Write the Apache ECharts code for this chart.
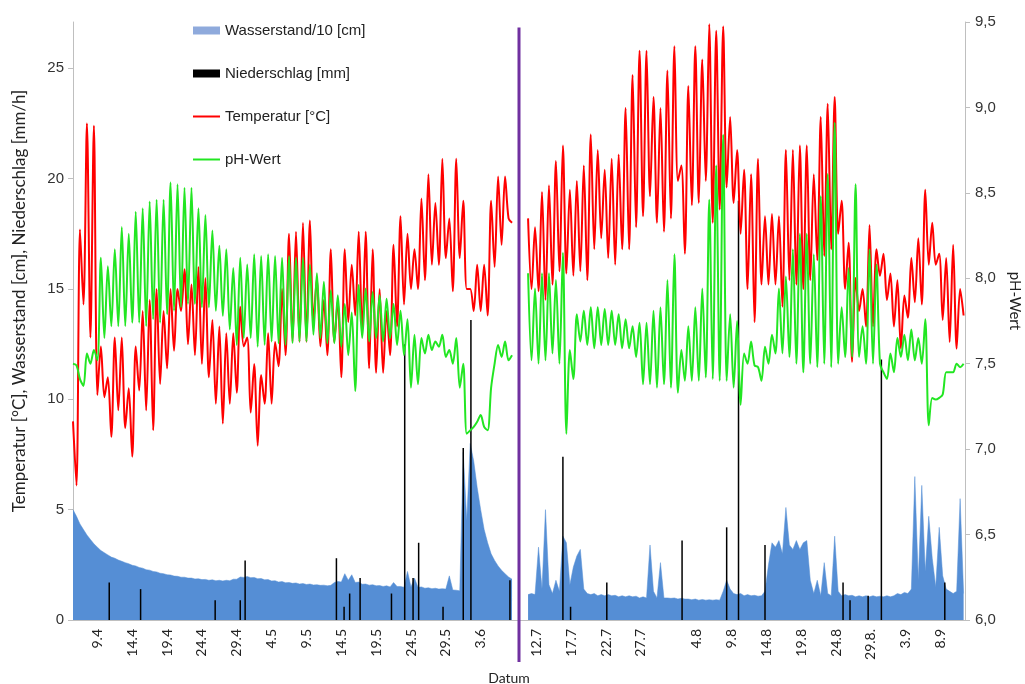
<!DOCTYPE html>
<html><head><meta charset="utf-8">
<script src="https://cdn.jsdelivr.net/npm/echarts@6/dist/echarts.min.js"></script>
<style>html,body{margin:0;padding:0;background:#fff}#c{width:1025px;height:684px}</style>
</head><body><div id="c"></div>
<script>
// time axis in days; segment 1 starts 5.4. (t=0), segment 2 starts 10.7. (t=65.3)
const seg1Start = 0, seg2Start = 65.3, step = 0.5;
const dividerDay = 64.0;

const tickLabels = ['9.4','14.4','19.4','24.4','29.4','4.5','9.5','14.5','19.5','24.5','29.5','3.6',
  '12.7','17.7','22.7','27.7','4.8','9.8','14.8','19.8','24.8','29.8.','3.9','8.9'];
const tickDays = [3.5,8.5,13.5,18.5,23.5,28.5,33.5,38.5,43.5,48.5,53.5,58.5,
  66.5,71.5,76.5,81.5,89.5,94.5,99.5,104.5,109.5,114.5,119.5,124.5];

const temp1 = [9.0,6.1, 17.7,14.3, 22.5,12.8, 22.4,10.2, 12.4,10.1, 11.0,8.3, 12.8,9.5, 12.8,8.7, 10.5,7.4, 12.4,10.4,
 14.0,9.5, 14.5,8.6, 15.0,10.7, 14.0,11.4, 15.0,12.2, 15.0,14.0, 15.9,12.5, 15.2,12.0, 16.0,11.6, 15.5,11.0,
 13.6,9.8, 13.3,8.9, 13.0,9.8, 13.0,10.3, 14.2,12.4, 12.8,9.4, 11.6,7.9, 11.1,9.8, 13.0,9.8, 12.6,11.5,
 15.0,12.0, 17.5,12.6, 17.6,12.6, 18.0,12.6, 18.1,13.5, 15.5,12.4, 14.5,12.0, 16.8,12.6, 14.5,11.0, 16.8,13.5,
 16.1,13.8, 17.6,13.0, 17.6,11.4, 16.8,11.2, 15.0,11.2, 14.0,12.0, 17.0,13.3, 18.3,14.3, 17.5,15.0, 16.8,15.0,
 19.1,15.4, 20.2,16.1, 18.9,16.1, 20.9,16.4, 18.2,14.9, 20.9,16.4, 19.0,15.0, 15.0,14.0, 16.1,14.0, 16.1,13.8,
 19.0,16.0, 20.1,17.0, 20.1,18.2, 18.0];
const temp2 = [18.2,15.0, 17.8,14.9, 19.4,14.5, 19.7,15.2, 20.8,15.8, 21.5,15.7, 19.5,15.6, 19.9,15.8, 20.6,15.4, 22.0,16.8,
 21.3,17.3, 20.4,16.4, 20.9,16.1, 21.1,16.8, 23.2,16.8, 24.7,17.8, 25.8,18.3, 25.8,19.2, 23.7,18.0, 23.2,17.6,
 24.9,18.2, 26.0,19.9, 20.6,16.6, 24.2,18.8, 26.0,18.9, 25.4,19.9, 27.0,18.0, 26.7,18.6, 26.9,19.6, 22.8,18.9,
 21.3,17.5, 20.4,15.0, 20.2,13.5, 20.9,15.2, 18.3,15.2, 18.4,15.2, 18.3,14.2, 21.3,15.4, 21.3,15.2, 21.5,15.0,
 21.5,15.4, 20.2,16.3, 22.8,16.5, 23.4,16.8, 23.7,17.5, 19.0,15.0, 17.1,11.7, 15.5,14.0, 15.0,13.3, 17.9,13.3,
 16.8,15.6, 16.6,14.5, 15.7,13.3, 15.4,12.3, 14.7,13.7, 16.4,14.4, 17.3,14.3, 19.5,16.1, 18.0,16.1, 16.6,13.6,
 16.4,12.6, 17.0,12.3, 15.0,13.8];

const ph1 = [7.50,7.49, 7.41,7.37, 7.56,7.50, 7.58,7.52, 8.12,7.65, 8.07,7.72, 8.17,7.72, 8.30,7.72, 8.26,7.74, 8.39,7.74,
 8.41,7.72, 8.45,7.76, 8.46,7.74, 8.46,7.79, 8.56,7.81, 8.55,7.83, 8.53,7.85, 8.53,7.85, 8.41,7.83, 8.37,7.83,
 8.28,7.81, 8.19,7.78, 8.17,7.70, 8.06,7.61, 8.12,7.65, 8.08,7.65, 8.14,7.60, 8.13,7.61, 8.14,7.63, 8.13,7.62,
 8.12,7.61, 8.13,7.62, 8.12,7.63, 8.12,7.63, 8.08,7.67, 8.03,7.65, 7.98,7.62, 7.93,7.62, 7.90,7.60, 7.85,7.55,
 7.80,7.34, 7.96,7.65, 7.94,7.63, 7.92,7.65, 7.90,7.63, 7.88,7.65, 7.85,7.61, 7.81,7.55, 7.76,7.36, 7.67,7.38,
 7.65,7.56, 7.67,7.58, 7.63,7.60, 7.67,7.54, 7.58,7.50, 7.65,7.36, 7.50,7.09, 7.11,7.13, 7.16,7.20, 7.13,7.11,
 7.36,7.50, 7.61,7.54, 7.63,7.52, 7.55];
const ph2 = [8.03,7.52, 7.94,7.50, 8.03,7.52, 8.03,7.56, 7.99,7.50, 8.15,7.09, 7.58,7.41, 7.79,7.63, 7.81,7.61, 7.83,7.59,
 7.83,7.61, 7.82,7.61, 7.81,7.61, 7.79,7.59, 7.76,7.59, 7.72,7.54, 7.74,7.38, 7.74,7.38, 7.81,7.36, 7.83,7.38,
 7.99,7.36, 8.14,7.33, 7.58,7.40, 7.72,7.40, 7.83,7.40, 7.94,7.42, 8.46,7.41, 8.66,7.40, 8.84,7.40, 7.79,7.36,
 7.75,7.26, 7.56,7.50, 7.63,7.49, 7.48,7.40, 7.60,7.50, 7.67,7.56, 7.94,7.56, 8.01,7.54, 8.17,7.50, 8.26,7.45,
 8.26,7.50, 8.14,7.48, 8.48,7.50, 8.61,7.48, 8.91,7.50, 7.83,7.54, 8.06,7.54, 8.55,7.54, 7.72,7.50, 8.17,7.50,
 8.08,7.50, 7.45,7.41, 7.56,7.45, 7.65,7.54, 7.67,7.52, 7.70,7.52, 7.65,7.50, 7.76,7.14, 7.30,7.29, 7.30,7.32,
 7.45,7.45, 7.45,7.50, 7.48,7.50];

const water1 = [5.0,4.7,4.35,4.1,3.85,3.65,3.45,3.3,3.15,3.05,
 2.95,2.85,2.8,2.72,2.66,2.6,2.55,2.48,2.45,2.38,
 2.35,2.28,2.26,2.2,2.18,2.12,2.1,2.05,2.04,1.99,
 1.98,1.94,1.94,1.9,1.9,1.86,1.87,1.83,1.84,1.8,
 1.82,1.78,1.8,1.77,1.8,1.78,1.85,1.85,1.95,1.93,
 1.97,1.92,1.93,1.87,1.88,1.82,1.83,1.77,1.78,1.72,
 1.74,1.69,1.7,1.66,1.68,1.63,1.65,1.61,1.63,1.59,
 1.6,1.57,1.58,1.55,1.57,1.7,1.75,1.72,2.1,1.8,
 2.05,1.7,1.72,1.62,1.63,1.58,1.6,1.55,1.56,1.52,
 1.55,1.5,1.7,1.52,1.52,1.48,2.2,1.5,1.9,1.48,
 1.5,1.44,1.46,1.42,1.44,1.4,1.42,1.4,2.0,1.36,
 1.35,1.32,7.6,4.5,8.0,7.2,6.0,5.0,4.1,3.5,
 3.0,2.7,2.45,2.25,2.1,1.95,1.85];
const water2 = [1.15,1.2,1.15,3.3,1.4,5.0,1.6,1.2,1.8,1.3,
 3.8,3.5,1.6,2.4,2.9,3.2,1.4,1.2,1.15,1.2,
 1.1,1.15,1.1,1.15,1.1,1.12,1.05,1.1,1.05,1.1,
 1.05,1.08,1.0,1.05,1.0,3.4,1.3,1.0,2.6,1.0,
 1.0,0.98,1.0,0.95,0.98,0.95,0.95,0.92,0.95,0.9,
 0.93,0.9,0.92,0.9,0.92,0.9,1.3,1.8,1.4,1.2,
 1.15,1.2,1.1,1.15,1.1,1.12,1.08,1.1,1.3,2.5,
 3.5,3.3,3.6,3.0,5.1,3.4,3.2,3.6,3.2,3.5,
 3.6,1.8,1.2,1.8,1.1,2.6,1.2,1.1,3.8,1.3,
 1.1,1.15,1.1,1.12,1.05,1.1,1.05,1.1,1.05,1.1,
 1.05,1.08,1.05,1.1,1.05,1.1,1.2,1.15,1.25,1.2,
 1.4,6.5,1.8,6.1,2.2,4.7,2.8,1.5,4.2,2.0,
 1.4,1.3,1.2,1.3,5.5,1.2];

const rainDays = [5.2,9.7,20.4,24.0,24.7,37.8,38.9,39.7,41.2,45.7,47.6,48.8,49.6,53.1,56.0,57.1,62.7,
  70.3,71.4,76.6,87.4,93.8,95.5,99.3,110.5,111.5,114.1,116.0,125.1];
const rainValues = [1.7,1.4,0.9,0.9,2.7,2.8,0.6,1.2,1.9,1.2,12.5,1.9,3.5,0.6,7.8,13.6,1.8,
  7.4,0.6,1.7,3.6,4.2,19.0,3.4,1.7,0.9,1.1,11.8,1.7];

function pairs(start, arr) { return arr.map((v, i) => [start + i * step, v]); }
function joined(a, b) { return pairs(seg1Start, a).concat([[dividerDay, null]], pairs(seg2Start, b)); }

const chart = echarts.init(document.getElementById('c'));
const numFont = 'Liberation Sans', txtFont = 'Lato';
chart.setOption({
  animation: false,
  backgroundColor: '#ffffff',
  grid: { left: 73, right: 60, top: 22, bottom: 64, containLabel: false, outerBoundsMode: 'none' },
  legend: {
    orient: 'vertical', left: 192, top: 23, padding: 0, itemGap: 28, itemWidth: 27, itemHeight: 8,
    textStyle: { fontFamily: numFont, fontSize: 15, color: '#222' },
    data: [
      { name: 'Wasserstand/10 [cm]', icon: 'rect', itemStyle: { color: '#8FAADC' } },
      { name: 'Niederschlag [mm]', icon: 'rect', itemStyle: { color: '#000' } },
      { name: 'Temperatur [°C]', itemStyle: { opacity: 0 } },
      { name: 'pH-Wert', itemStyle: { opacity: 0 } }
    ]
  },
  xAxis: {
    type: 'value', min: 0, max: 128,
    splitLine: { show: false },
    axisLine: { lineStyle: { color: '#BFBFBF', width: 1 } },
    axisTick: { show: false },
    axisLabel: {
      customValues: tickDays,
      formatter: v => { const i = tickDays.findIndex(d => Math.abs(d - v) < 1e-6); return i >= 0 ? tickLabels[i] : ''; },
      rotate: 90, fontFamily: txtFont, fontSize: 14, color: '#222', margin: 9
    },
    name: 'Datum', nameLocation: 'middle', nameGap: 51,
    nameTextStyle: { fontFamily: txtFont, fontSize: 14, color: '#222', padding: [0, 20, 0, 0] }
  },
  yAxis: [
    {
      type: 'value', min: 0, max: 27.1, interval: 5,
      splitLine: { show: false },
      axisLine: { show: true, lineStyle: { color: '#BFBFBF' } },
      axisTick: { show: true, length: 5, customValues: [0,5,10,15,20,25], lineStyle: { color: '#BFBFBF' } },
      axisLabel: { customValues: [0,5,10,15,20,25], fontFamily: numFont, fontSize: 15, color: '#333', margin: 9 },
      name: 'Temperatur [°C], Wasserstand [cm], Niederschlag [mm/h]',
      nameLocation: 'middle', nameGap: 45,
      nameTextStyle: { fontFamily: txtFont, fontSize: 17, color: '#222', padding: [0, 0, 0, 40] }
    },
    {
      type: 'value', position: 'right', min: 6, max: 9.5, interval: 0.5,
      splitLine: { show: false },
      axisLine: { show: true, lineStyle: { color: '#BFBFBF' } },
      axisTick: { show: true, length: 5, lineStyle: { color: '#BFBFBF' } },
      axisLabel: { formatter: v => v.toFixed(1).replace('.', ','), fontFamily: numFont, fontSize: 15, color: '#333', margin: 10 },
      name: 'pH-Wert', nameLocation: 'middle', nameRotate: -90, nameGap: 42,
      nameTextStyle: { fontFamily: txtFont, fontSize: 15, color: '#222', padding: [0, 40, 0, 0] }
    }
  ],
  series: [
    {
      name: 'Wasserstand/10 [cm]', type: 'line', yAxisIndex: 0, data: joined(water1, water2),
      symbol: 'none', lineStyle: { width: 0.5, color: '#558ED5' }, itemStyle: { color: '#558ED5' },
      areaStyle: { color: '#558ED5', opacity: 1 }, z: 1
    },
    {
      name: 'Niederschlag [mm]', type: 'bar', yAxisIndex: 0, barWidth: 1.5,
      data: rainDays.map((d, i) => [d, rainValues[i]]),
      itemStyle: { color: '#000' }, z: 2
    },
    {
      name: 'Temperatur [°C]', type: 'line', yAxisIndex: 0, data: joined(temp1, temp2),
      symbol: 'none', smooth: 0.3, lineStyle: { width: 2, color: '#FF0000' }, itemStyle: { color: '#FF0000' }, z: 3
    },
    {
      name: 'pH-Wert', type: 'line', yAxisIndex: 1, data: joined(ph1, ph2),
      symbol: 'none', smooth: 0.3, lineStyle: { width: 2, color: '#22E622' }, itemStyle: { color: '#22E622' }, z: 4
    }
  ]
});

const px = chart.convertToPixel({ xAxisIndex: 0 }, dividerDay);
const yTop = chart.convertToPixel({ yAxisIndex: 0 }, 26.85);
const yBot = chart.convertToPixel({ yAxisIndex: 0 }, -1.9);
chart.setOption({
  graphic: [{ type: 'line', shape: { x1: px, y1: yTop, x2: px, y2: yBot }, style: { stroke: '#7030A0', lineWidth: 3 }, z: 100 }]
});
</script></body></html>
